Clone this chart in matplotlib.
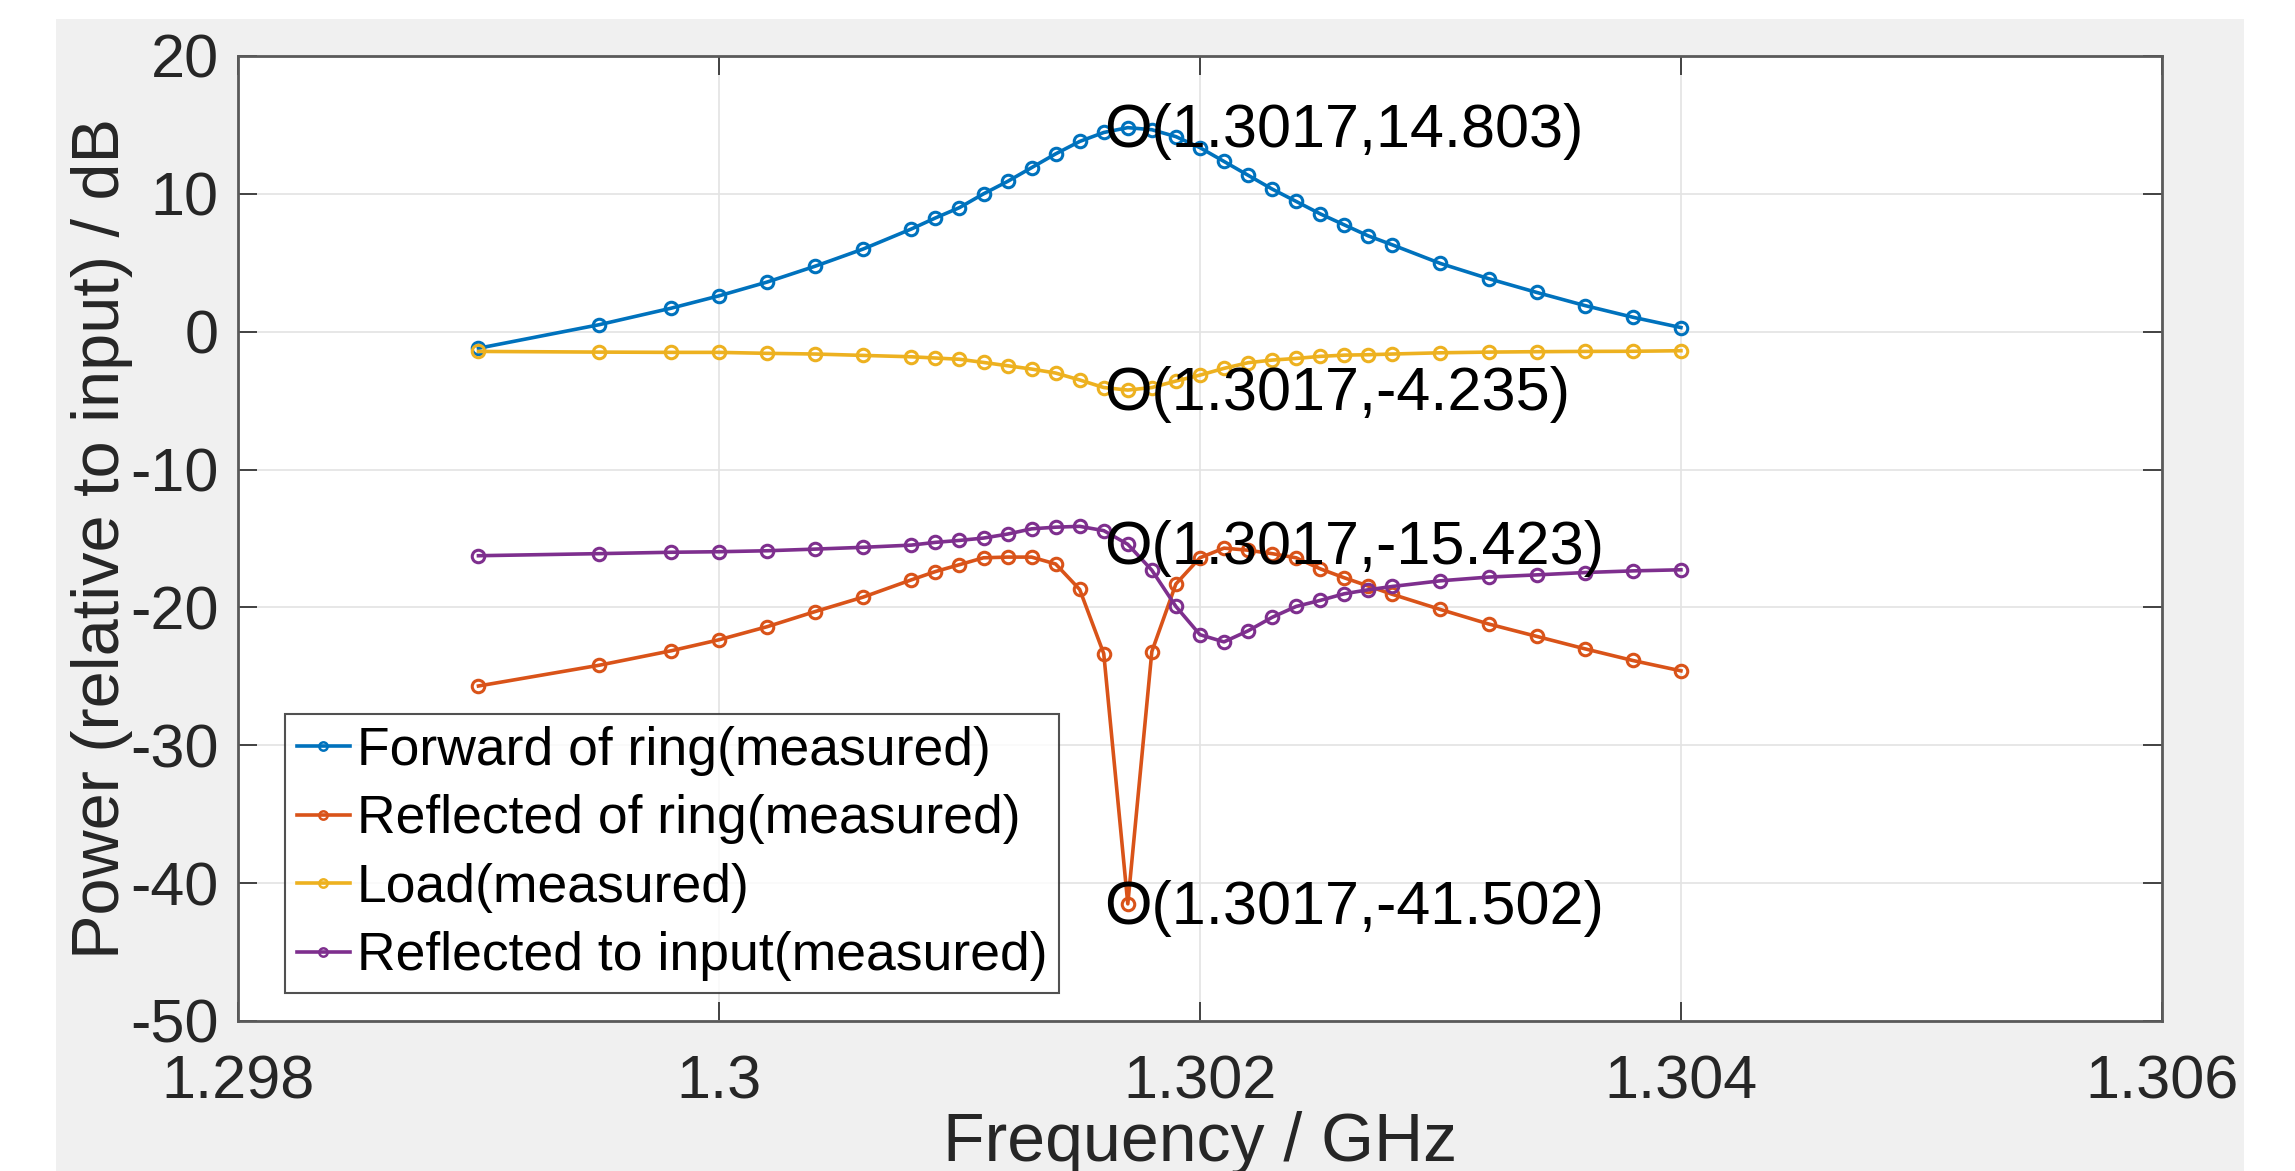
import matplotlib
matplotlib.use("Agg")
import matplotlib.pyplot as plt
from matplotlib.patches import Rectangle

plt.rcParams['font.family'] = ['Liberation Sans', 'DejaVu Sans']
plt.rcParams['axes.unicode_minus'] = False

freq = [1.2990, 1.2995, 1.2998, 1.3000, 1.3002, 1.3004, 1.3006, 1.3008, 1.3009,
        1.3010, 1.3011, 1.3012, 1.3013, 1.3014, 1.3015, 1.3016, 1.3017, 1.3018,
        1.3019, 1.3020, 1.3021, 1.3022, 1.3023, 1.3024, 1.3025, 1.3026, 1.3027,
        1.3028, 1.3030, 1.3032, 1.3034, 1.3036, 1.3038, 1.3040]

forward_ring = [-1.2, 0.5, 1.7, 2.6, 3.6, 4.75, 6.0, 7.45, 8.25, 9.0, 10.0, 10.9,
                11.9, 12.9, 13.8, 14.45, 14.803, 14.65, 14.15, 13.35, 12.35, 11.35,
                10.35, 9.45, 8.55, 7.75, 6.95, 6.3, 4.95, 3.85, 2.85, 1.9, 1.05, 0.3]

reflected_ring = [-25.7, -24.2, -23.15, -22.35, -21.4, -20.3, -19.25, -18.0, -17.4,
                  -16.9, -16.4, -16.35, -16.35, -16.85, -18.7, -23.35, -41.502, -23.2,
                  -18.3, -16.4, -15.7, -15.85, -16.1, -16.4, -17.2, -17.85, -18.45,
                  -19.05, -20.15, -21.2, -22.1, -23.0, -23.85, -24.6]

load = [-1.43, -1.48, -1.5, -1.5, -1.57, -1.62, -1.72, -1.82, -1.91, -2.0, -2.23,
        -2.47, -2.71, -3.0, -3.5, -4.05, -4.235, -4.05, -3.58, -3.15, -2.66, -2.25,
        -2.06, -1.94, -1.79, -1.7, -1.67, -1.62, -1.53, -1.48, -1.45, -1.43, -1.42,
        -1.38]

reflected_input = [-16.25, -16.1, -16.0, -15.96, -15.89, -15.77, -15.64, -15.48,
                   -15.28, -15.14, -14.97, -14.68, -14.3, -14.18, -14.12, -14.43,
                   -15.423, -17.3, -19.93, -21.98, -22.5, -21.7, -20.72, -19.93,
                   -19.49, -19.01, -18.72, -18.48, -18.07, -17.8, -17.64, -17.47,
                   -17.35, -17.27]

series_labels = ["Forward of ring(measured)", "Reflected of ring(measured)",
                 "Load(measured)", "Reflected to input(measured)"]
series_colors = ["#0072BD", "#D95319", "#EDB120", "#7E2F8E"]

marker_x = [1.3017, 1.3017, 1.3017, 1.3017]
marker_y = [14.803, -4.235, -15.423, -41.502]
marker_text = ["O(1.3017,14.803)", "O(1.3017,-4.235)",
               "O(1.3017,-15.423)", "O(1.3017,-41.502)"]

xticks = [1.298, 1.300, 1.302, 1.304, 1.306]
xtick_labels = ["1.298", "1.3", "1.302", "1.304", "1.306"]
yticks = [-50, -40, -30, -20, -10, 0, 10, 20]

fig = plt.figure(figsize=(22.95, 11.71), dpi=100, facecolor="white")
fig.patches.append(Rectangle((0.0244, 0.0), 0.9534, 0.9838, transform=fig.transFigure,
                             facecolor="#f0f0f0", edgecolor="none", zorder=-10))

ax = fig.add_axes([0.1037, 0.1281, 0.8383, 0.8241])
ax.set_facecolor("white")

for yv, lab, col in zip([forward_ring, reflected_ring, load, reflected_input],
                        series_labels, series_colors):
    ax.plot(freq, yv, color=col, lw=2.6, marker="o", markersize=9,
            markerfacecolor="none", markeredgecolor=col, markeredgewidth=2.2,
            label=lab)

for xv, yv, t in zip(marker_x, marker_y, marker_text):
    ax.annotate(t, xy=(xv, yv), xytext=(-17, -3), textcoords="offset points",
                ha="left", va="center", fontsize=44, color="black", zorder=10)

ax.set_xlim(1.298, 1.306)
ax.set_ylim(-50, 20)
ax.set_xticks(xticks)
ax.set_xticklabels(xtick_labels)
ax.set_yticks(yticks)
ax.grid(True, color="#e3e3e3", lw=1.2)
ax.set_axisbelow(True)
ax.tick_params(direction="in", length=14, width=1.2, color="#262626",
               labelsize=44, labelcolor="#262626", top=True, right=True)
ax.tick_params(axis="x", pad=24)
ax.tick_params(axis="y", pad=14)
for s in ax.spines.values():
    s.set_color("#5a5a5a")
    s.set_linewidth(2)

ax.set_xlabel("Frequency / GHz", fontsize=49, color="#262626", labelpad=0)
ax.set_ylabel("Power (relative to input) / dB", fontsize=48, color="#262626", labelpad=-2)

leg = ax.legend(loc="lower left", bbox_to_anchor=(0.0244, 0.029), fontsize=38.5,
                frameon=True, fancybox=False, handlelength=1.0, handletextpad=0.12,
                borderpad=0.22, labelspacing=0.345, borderaxespad=0.0)
leg.get_frame().set_edgecolor("#262626")
leg.get_frame().set_linewidth(1.5)
for h in leg.legend_handles:
    h.set_markersize(6)
    h.set_markeredgewidth(1.8)

fig.savefig("out.png", dpi=100, facecolor=fig.get_facecolor())
